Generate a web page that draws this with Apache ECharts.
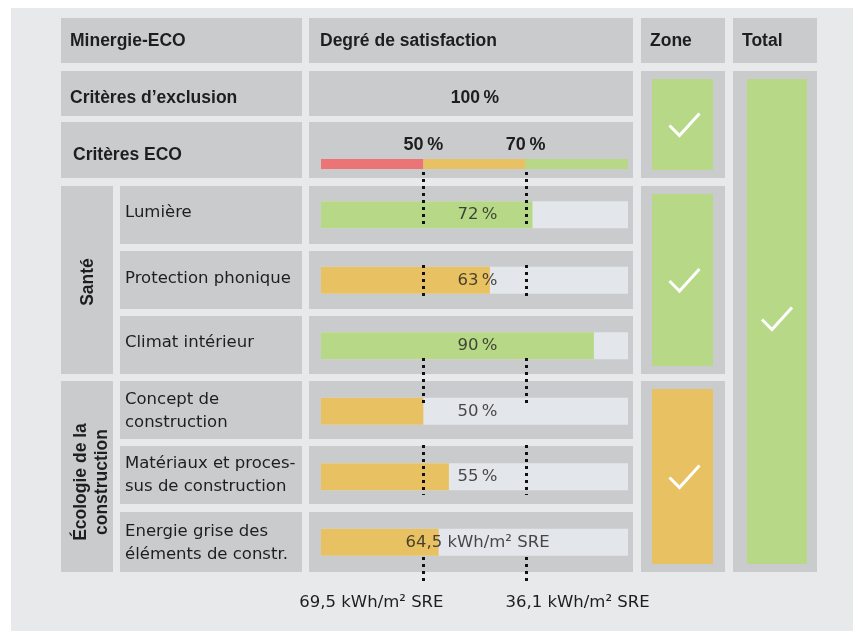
<!DOCTYPE html>
<html>
<head>
<meta charset="utf-8">
<script src="https://cdn.jsdelivr.net/npm/echarts@6/dist/echarts.min.js"></script>
<style>
  html, body { margin: 0; background: #fff; }
  #chart { width: 853px; height: 631px; }
</style>
</head>
<body>
<div id="chart"></div>
<script>
  // données
  const rowLabels = [
    'Lumière',
    'Protection phonique',
    'Climat intérieur',
    'Concept de\nconstruction',
    'Matériaux et proces-\nsus de construction',
    'Energie grise des\néléments de constr.',
  ];
  const satisfaction = [72, 63, 90, 50, 55]; // %
  const energyValue = 64.5; // kWh/m² SRE
  const pctLimits = [50, 70];
  const energyLimits = [69.5, 36.1];
  const exclusionValue = 100;
  const sections = ['Santé', 'Écologie de la\nconstruction'];
  const zoneStatus = ['ok', 'ok', 'partial'];
  const totalStatus = 'ok';

  const C = {
    bg: '#e8e9eb',
    cell: '#cacbcd',
    track: '#e3e6ea',
    red: '#ec7376',
    orange: '#e8c262',
    green: '#b7d987',
    text: '#1e1e1e',
  };
  const FONT = '"DejaVu Sans", Verdana, sans-serif';
  const FONT_B = '"Liberation Sans", Arial, sans-serif';

  // échelle à trois zones : 0-50, 50-70, 70-100 -> 0-1, 1-2, 2-3
  function pctTrack(v) {
    if (v <= pctLimits[0]) return v / pctLimits[0];
    if (v <= pctLimits[1]) return 1 + (v - pctLimits[0]) / (pctLimits[1] - pctLimits[0]);
    return 2 + (v - pctLimits[1]) / (100 - pctLimits[1]);
  }
  function energyTrack(v) {
    return 1 + (energyLimits[0] - v) / (energyLimits[0] - energyLimits[1]);
  }
  function zoneColor(t) {
    if (t < 1) return C.red;
    if (t < 2) return C.orange;
    return C.green;
  }
  const fmt = (v) => String(v).replace('.', ',');

  const trackValues = satisfaction.map(pctTrack).concat([energyTrack(energyValue)]);
  const valueLabels = satisfaction
    .map((v) => v + '\u2009%')
    .concat([fmt(energyValue) + ' kWh/m\u00b2 SRE']);

  // mise en page du tableau
  const cells = [
    [61, 18, 302, 63], [309, 18, 633, 63], [641, 18, 725, 63], [733, 18, 817, 63],
    [61, 71, 302, 116], [309, 71, 633, 116],
    [61, 122, 302, 178], [309, 122, 633, 178],
    [61, 186, 113, 374], [61, 381, 113, 572],
    [120, 186, 302, 244], [120, 251, 302, 309], [120, 316, 302, 374],
    [120, 381, 302, 439], [120, 446, 302, 504], [120, 512, 302, 572],
    [309, 186, 633, 244], [309, 251, 633, 309], [309, 316, 633, 374],
    [309, 381, 633, 439], [309, 446, 633, 504], [309, 512, 633, 572],
    [641, 71, 725, 178], [641, 186, 725, 374], [641, 381, 725, 572],
    [733, 71, 817, 572],
  ];
  const zoneBoxes = [[652, 79, 713, 170], [652, 194, 713, 366], [652, 389, 713, 564]];
  const totalBox = [747, 79, 807, 564];
  const rowTextY = [213, 279, 343, 411.5, 475, 543.5];
  const dotSegments = [[172, 228], [265, 300], [358, 403], [445, 495], [557, 585]];

  const graphics = [
    { type: 'rect', shape: { x: 11, y: 8, width: 842, height: 623 }, style: { fill: C.bg } },
  ];
  cells.forEach((c) => {
    graphics.push({
      type: 'rect',
      shape: { x: c[0], y: c[1], width: c[2] - c[0], height: c[3] - c[1] },
      style: { fill: C.cell },
    });
  });

  function text(t, x, y, opts) {
    return {
      type: 'text',
      x: x,
      y: y,
      style: Object.assign(
        {
          text: t,
          fill: C.text,
          fontFamily: FONT,
          fontSize: 16.5,
          align: 'left',
          verticalAlign: 'middle',
          lineHeight: 23,
        },
        opts || {}
      ),
    };
  }
  const bold = { fontWeight: 'bold', fontFamily: FONT_B, fontSize: 17.5 };
  graphics.push(text('Minergie-ECO', 70, 41, bold));
  graphics.push(text('Degré de satisfaction', 320, 41, bold));
  graphics.push(text('Zone', 650, 41, bold));
  graphics.push(text('Total', 742, 41, bold));
  graphics.push(text('Critères d\u2019exclusion', 70, 98, bold));
  graphics.push(text(exclusionValue + '\u2009%', 475, 98, Object.assign({ align: 'center' }, bold)));
  graphics.push(text('Critères ECO', 73, 155, bold));
  rowLabels.forEach((l, i) => graphics.push(text(l, 125, rowTextY[i])));

  const santeRot = text(sections[0], 88, 282, Object.assign({ align: 'center' }, bold));
  santeRot.rotation = Math.PI / 2;
  graphics.push(santeRot);
  const ecoRot = text(sections[1], 92, 482, Object.assign({ align: 'center', lineHeight: 21 }, bold));
  ecoRot.rotation = Math.PI / 2;
  graphics.push(ecoRot);

  function statusColor(s) {
    return s === 'ok' ? C.green : C.orange;
  }
  function check(cx, cy) {
    return {
      type: 'polyline',
      x: cx,
      y: cy,
      shape: { points: [[-15, 1], [-5, 11], [15, -11]] },
      style: { stroke: '#fff', lineWidth: 3, fill: null },
    };
  }
  zoneBoxes.forEach((b, i) => {
    graphics.push({
      type: 'rect',
      shape: { x: b[0], y: b[1], width: b[2] - b[0], height: b[3] - b[1] },
      style: { fill: statusColor(zoneStatus[i]) },
    });
    graphics.push(check((b[0] + b[2]) / 2 + 2, (b[1] + b[3]) / 2));
  });
  graphics.push({
    type: 'rect',
    shape: { x: totalBox[0], y: totalBox[1], width: totalBox[2] - totalBox[0], height: totalBox[3] - totalBox[1] },
    style: { fill: statusColor(totalStatus) },
  });
  graphics.push(check((totalBox[0] + totalBox[2]) / 2, (totalBox[1] + totalBox[3]) / 2 - 3));

  const chart = echarts.init(document.getElementById('chart'));
  const option = {
    animation: false,
    backgroundColor: '#fff',
    graphic: { elements: graphics },
    grid: [
      { left: 321, top: 182, width: 307, height: 393 },
      { left: 321, top: 159, width: 307, height: 10 },
    ],
    xAxis: [
      { gridIndex: 0, type: 'value', min: 0, max: 3, show: false },
      {
        gridIndex: 1,
        type: 'value',
        min: 0,
        max: 3,
        interval: 1,
        position: 'top',
        axisLine: { show: false },
        axisTick: { show: false },
        splitLine: { show: false },
        axisLabel: {
          margin: 5,
          fontFamily: FONT_B,
          fontSize: 18,
          fontWeight: 'bold',
          color: C.text,
          formatter: (v) => (v === 1 || v === 2 ? pctLimits[v - 1] + '\u2009%' : ''),
        },
      },
    ],
    yAxis: [
      { gridIndex: 0, type: 'category', data: rowLabels, inverse: true, show: false },
      { gridIndex: 1, type: 'category', data: ['seuils'], show: false },
    ],
    series: [
      {
        type: 'bar',
        xAxisIndex: 0,
        yAxisIndex: 0,
        barWidth: 27,
        showBackground: true,
        backgroundStyle: { color: C.track },
        data: trackValues.map((t) => ({ value: t, itemStyle: { color: zoneColor(t) } })),
      },
      { type: 'bar', xAxisIndex: 1, yAxisIndex: 1, stack: 's', barWidth: 10, data: [1], itemStyle: { color: C.red } },
      { type: 'bar', xAxisIndex: 1, yAxisIndex: 1, stack: 's', barWidth: 10, data: [1], itemStyle: { color: C.orange } },
      { type: 'bar', xAxisIndex: 1, yAxisIndex: 1, stack: 's', barWidth: 10, data: [1], itemStyle: { color: C.green } },
      {
        type: 'custom',
        xAxisIndex: 0,
        yAxisIndex: 0,
        clip: false,
        z: 5,
        data: [[1, 0], [2, 0]],
        renderItem: (params, api) => {
          const i = params.dataIndex;
          const x = Math.round(api.coord([api.value(0), 0])[0]) + 0.5;
          const children = dotSegments.map((s) => ({
            type: 'line',
            shape: { x1: x, y1: s[0], x2: x, y2: s[1] },
            style: { stroke: '#111', lineWidth: 3, lineDash: [3, 4] },
          }));
          children.push({
            type: 'text',
            x: i === 0 ? x + 20 : x - 21,
            y: 603,
            style: {
              text: fmt(energyLimits[i]) + ' kWh/m\u00b2 SRE',
              fill: C.text,
              fontFamily: FONT,
              fontSize: 16.5,
              align: i === 0 ? 'right' : 'left',
              verticalAlign: 'middle',
            },
          });
          return { type: 'group', children: children };
        },
      },
      {
        type: 'scatter',
        xAxisIndex: 0,
        yAxisIndex: 0,
        symbolSize: 0,
        z: 6,
        data: trackValues.map((t, i) => [1.5, i]),
        label: {
          show: true,
          position: 'inside',
          offset: [3, 0],
          fontFamily: FONT,
          fontSize: 16.5,
          color: C.text,
          formatter: (p) => valueLabels[p.dataIndex],
        },
      },
    ],
  };
  chart.setOption(option);
</script>
</body>
</html>
